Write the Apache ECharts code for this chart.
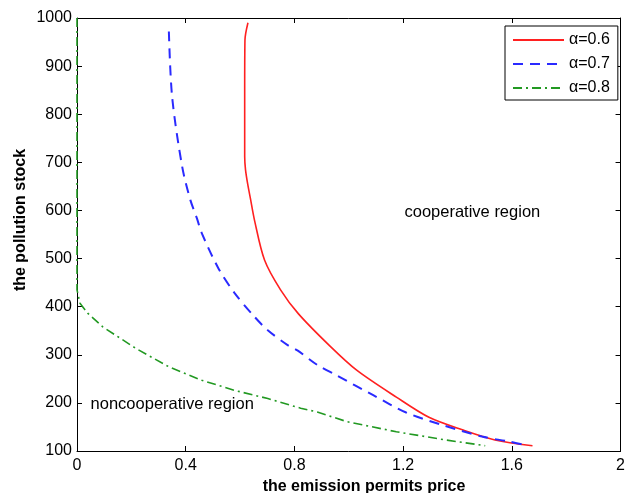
<!DOCTYPE html>
<html>
<head>
<meta charset="utf-8">
<script src="https://cdn.jsdelivr.net/npm/echarts@6/dist/echarts.min.js"></script>
<style>
html,body{margin:0;padding:0;background:#fff;}
#chart{width:628px;height:493px;}
</style>
</head>
<body>
<div id="chart"></div>
<script>
// ---- data ----
const seriesNames = ['α=0.6', 'α=0.7', 'α=0.8'];
const redX = [0.629,0.618,0.617,0.617,0.620,0.628,0.638,0.653,0.69,0.749,0.815,0.931,1.029,1.175,1.295,1.418,1.538,1.676];
const redY = [990,954,850,712,685,655,625,580,497,435,385,318,268,212,170,144,123,111];
const blueX = [0.338,0.350,0.387,0.417,0.441,0.459,0.52,0.58,0.653,0.702,0.775,0.811,0.884,0.956,1.09,1.211,1.344,1.49,1.586,1.66];
const blueY = [972,836,691,622,584,553,480,428,379,351,320,309,279,257,216,180,154,130,120,111];
const greenX = [0,0,0.011,0.04,0.095,0.217,0.338,0.459,0.58,0.702,0.823,0.884,0.993,1.175,1.356,1.502];
const greenY = [1000,435,407,386,358,313,275,247,226,209,189,181,161,140,123,111];
const xTicks = [0, 0.4, 0.8, 1.2, 1.6, 2];
const yTicks = [100,200,300,400,500,600,700,800,900,1000];
const regionLabels = ['cooperative region', 'noncooperative region'];
const xTitle = 'the emission permits price';
const yTitle = 'the pollution stock';

function pairs(xs, ys){ return xs.map((x,i)=>[x, ys[i]]); }

const font = 'Liberation Sans, Arial, sans-serif';
const chart = echarts.init(document.getElementById('chart'), null, {renderer:'canvas'});

const axisCommon = {
  axisLine:{show:true, onZero:false, lineStyle:{color:'#000', width:1}},
  axisTick:{show:true, inside:true, length:5, lineStyle:{color:'#000'}},
  splitLine:{show:false}
};

chart.setOption({
  animation:false,
  backgroundColor:'#fff',
  grid:{left:77, right:2, top:18, bottom:42, containLabel:false},
  legend:{
    data:seriesNames,
    orient:'vertical',
    left:505, top:26,
    backgroundColor:'#fff',
    borderColor:'#000', borderWidth:1,
    padding:[6,8,4,7],
    itemWidth:51, itemHeight:14, itemGap:8,
    itemStyle:{opacity:0},
    textStyle:{fontFamily:font, fontSize:16, color:'#000', lineHeight:16}
  },
  xAxis:[
    Object.assign({}, axisCommon, {
      type:'value', min:0, max:2, interval:0.4, position:'bottom',
      axisLabel:{show:true, color:'#000', fontFamily:font, fontSize:16, margin:7,
        formatter:v=>{ const t = xTicks.find(k=>Math.abs(k-v)<1e-6); return t===undefined? '' : String(t);} }
    }),
    Object.assign({}, axisCommon, {
      type:'value', min:0, max:2, interval:0.4, position:'top',
      axisLabel:{show:false}
    })
  ],
  yAxis:[
    Object.assign({}, axisCommon, {
      type:'value', min:100, max:1000, interval:100, position:'left',
      axisLabel:{show:true, color:'#000', fontFamily:font, fontSize:16, margin:5,
        formatter:v=>{ const t = yTicks.find(k=>Math.abs(k-v)<1e-6); return t===undefined? '' : String(t);} }
    }),
    Object.assign({}, axisCommon, {
      type:'value', min:100, max:1000, interval:100, position:'right',
      axisLabel:{show:false}
    })
  ],
  series:[
    {name:seriesNames[0], type:'line', data:pairs(redX, redY), showSymbol:false, symbol:'none', smooth:0.3,
      lineStyle:{color:'#ff2020', width:1.6, type:'solid'}, itemStyle:{color:'#ff2020'}},
    {name:seriesNames[1], type:'line', data:pairs(blueX, blueY), showSymbol:false, symbol:'none', smooth:0.3,
      lineStyle:{color:'#2a2aff', width:2, type:[10,7]}, itemStyle:{color:'#2a2aff'}},
    {name:seriesNames[2], type:'line', data:pairs(greenX, greenY), showSymbol:false, symbol:'none', smooth:false,
      lineStyle:{color:'#229922', width:1.6, type:[9,4,2,4]}, itemStyle:{color:'#229922'}}
  ]
});

// region annotations placed at data coordinates, axis titles
const p1 = chart.convertToPixel({xAxisIndex:0, yAxisIndex:0}, [1.205, 596]);
const p2 = chart.convertToPixel({xAxisIndex:0, yAxisIndex:0}, [0.05, 197]);
chart.setOption({
  graphic:[
    {type:'text', x:p1[0], y:p1[1], style:{text:regionLabels[0], fontFamily:font, fontSize:16.5, fill:'#000', textVerticalAlign:'middle'}},
    {type:'text', x:p2[0], y:p2[1], style:{text:regionLabels[1], fontFamily:font, fontSize:16.5, fill:'#000', textVerticalAlign:'middle'}},
    {type:'text', x:364, y:487, style:{text:xTitle, fontFamily:font, fontSize:16, fontWeight:'bold', fill:'#000', textAlign:'center', textVerticalAlign:'middle'}},
    {type:'text', x:21, y:220, rotation:Math.PI/2, style:{text:yTitle, fontFamily:font, fontSize:16, fontWeight:'bold', fill:'#000', textAlign:'center', textVerticalAlign:'middle'}}
  ]
});
</script>
</body>
</html>
